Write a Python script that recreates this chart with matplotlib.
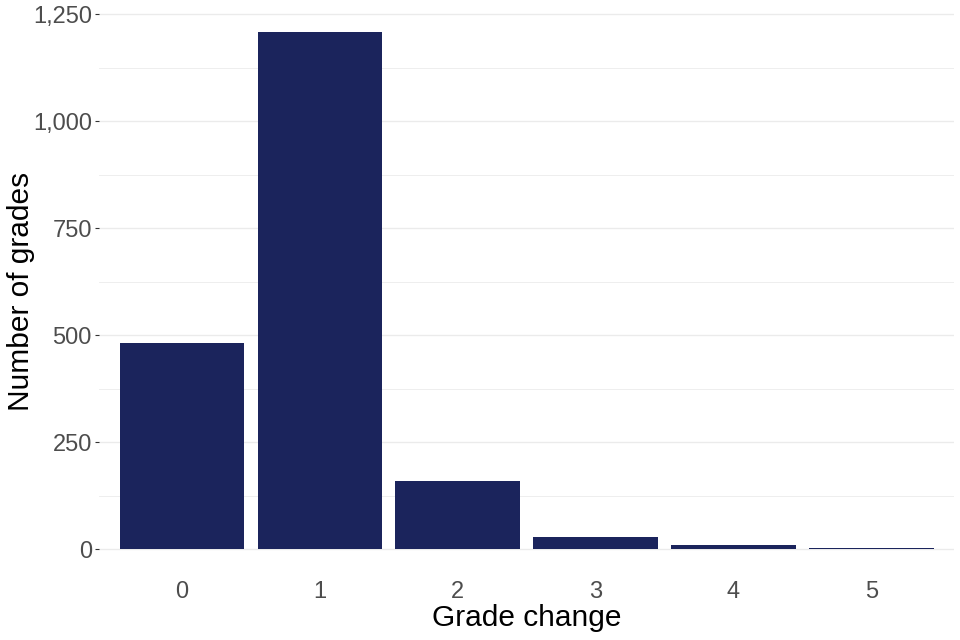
import numpy as np
import matplotlib.pyplot as plt
from matplotlib.ticker import FuncFormatter, MultipleLocator

plt.rcParams['font.family'] = ['Liberation Sans', 'DejaVu Sans']

grade_change = ['0', '1', '2', '3', '4', '5']
num_grades = [483, 1209, 159, 28, 9, 2]

fig = plt.figure(figsize=(9.6, 6.4), dpi=100)
ax = fig.add_axes([0.103, 0.1016, 0.891, 0.8874])

x = np.arange(len(grade_change))
ax.bar(x, num_grades, width=0.9, color='#1B245C', zorder=3)

ax.set_xlim(-0.6, 5.6)
ax.set_ylim(-60, 1267)
ax.yaxis.set_major_locator(MultipleLocator(250))
ax.yaxis.set_minor_locator(MultipleLocator(125))
ax.yaxis.set_major_formatter(FuncFormatter(lambda v, p: f'{int(v):,}'))
ax.set_xticks(x)
ax.set_xticklabels(grade_change)

ax.grid(axis='y', which='major', color='#EBEBEB', linewidth=1.0, zorder=0)
ax.grid(axis='y', which='minor', color='#EBEBEB', linewidth=0.6, zorder=0)
for s in ax.spines.values():
    s.set_visible(False)

ax.tick_params(axis='y', which='major', length=3, width=0.8, color='#333333',
               labelsize=17, labelcolor='#4D4D4D', pad=2)
ax.tick_params(axis='y', which='minor', length=0)
ax.tick_params(axis='x', length=0, labelsize=17, labelcolor='#4D4D4D', pad=4)

ax.set_xlabel('Grade change', fontsize=21.5, labelpad=1)
ax.set_ylabel('Number of grades', fontsize=21.5)
ax.yaxis.set_label_coords(-0.075, 0.5)

fig.savefig('out.png', dpi=100)
